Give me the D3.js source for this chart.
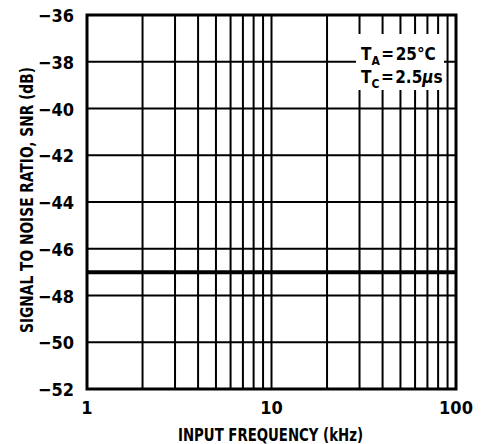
<!DOCTYPE html>
<html>
<head>
<meta charset="utf-8">
<script src="https://cdn.jsdelivr.net/npm/d3@7"></script>
<style>
  body { margin: 0; background: #fff; }
  text { font-family: "Liberation Sans Narrow", "DejaVu Sans Condensed", sans-serif; font-weight: bold; fill: #000; }
</style>
</head>
<body>
<svg id="chart" width="483" height="444"></svg>
<script>
// SNR vs input frequency, flat across the band
const freqKHz = [1, 100];
const snrDb = [-47, -47];
const yTicks = [-36, -38, -40, -42, -44, -46, -48, -50, -52];
const xTickLabels = [1, 10, 100];

const svg = d3.select("#chart");
const plot = { left: 87, right: 456, top: 15, bottom: 389 };

const x = d3.scaleLog().domain([1, 100]).range([plot.left, plot.right]);
const y = d3.scaleLinear().domain([-52, -36]).range([plot.bottom, plot.top]);

// log grid: 1..9, 10..90, 100
const xGrid = [];
[1, 10].forEach(d => { for (let k = 1; k < 10; k++) xGrid.push(d * k); });
xGrid.push(100);

svg.append("g").selectAll("line").data(xGrid).join("line")
  .attr("x1", d => x(d)).attr("x2", d => x(d))
  .attr("y1", plot.top).attr("y2", plot.bottom)
  .attr("stroke", "#000").attr("stroke-width", 2);

svg.append("g").selectAll("line").data(yTicks).join("line")
  .attr("x1", plot.left).attr("x2", plot.right)
  .attr("y1", d => y(d)).attr("y2", d => y(d))
  .attr("stroke", "#000").attr("stroke-width", 2);

// frame
svg.append("rect")
  .attr("x", plot.left).attr("y", plot.top)
  .attr("width", plot.right - plot.left).attr("height", plot.bottom - plot.top)
  .attr("fill", "none").attr("stroke", "#000").attr("stroke-width", 3);

// data line
svg.append("path")
  .datum(freqKHz.map((f, i) => [f, snrDb[i]]))
  .attr("d", d3.line().x(d => x(d[0])).y(d => y(d[1])))
  .attr("fill", "none").attr("stroke", "#000").attr("stroke-width", 4);

// annotation box
svg.append("rect").attr("x", 356).attr("y", 34).attr("width", 88).attr("height", 56).attr("fill", "#fff");
const note = svg.append("g").attr("font-size", 17);
const l1 = note.append("text").attr("x", 361).attr("y", 60);
l1.append("tspan").text("T");
l1.append("tspan").attr("font-size", 12).attr("dy", 5).text("A");
l1.append("tspan").attr("dy", -5).text("\u200a=\u200a25°C");
const l2 = note.append("text").attr("x", 361).attr("y", 83);
l2.append("tspan").text("T");
l2.append("tspan").attr("font-size", 12).attr("dy", 5).text("C");
l2.append("tspan").attr("dy", -5).text("\u200a=\u200a2.5");
l2.append("tspan").attr("font-style", "italic").text("μ");
l2.append("tspan").text("s");

// y tick labels
svg.append("g").selectAll("text").data(yTicks).join("text")
  .attr("x", 74).attr("y", d => y(d) + 7)
  .attr("text-anchor", "end").attr("font-size", 18)
  .text(d => "\u2212" + Math.abs(d));

// x tick labels
svg.append("g").selectAll("text").data(xTickLabels).join("text")
  .attr("x", d => x(d)).attr("y", 414)
  .attr("text-anchor", "middle").attr("font-size", 18)
  .text(d => d);

// axis titles (condensed to match the narrow original face)
svg.append("text")
  .attr("x", 178).attr("y", 441)
  .attr("font-size", 17)
  .attr("textLength", 185).attr("lengthAdjust", "spacingAndGlyphs")
  .text("INPUT FREQUENCY (kHz)");

svg.append("text")
  .attr("transform", "translate(33,333) rotate(-90)")
  .attr("font-size", 17)
  .attr("textLength", 266).attr("lengthAdjust", "spacingAndGlyphs")
  .text("SIGNAL TO NOISE RATIO, SNR (dB)");
</script>
</body>
</html>
